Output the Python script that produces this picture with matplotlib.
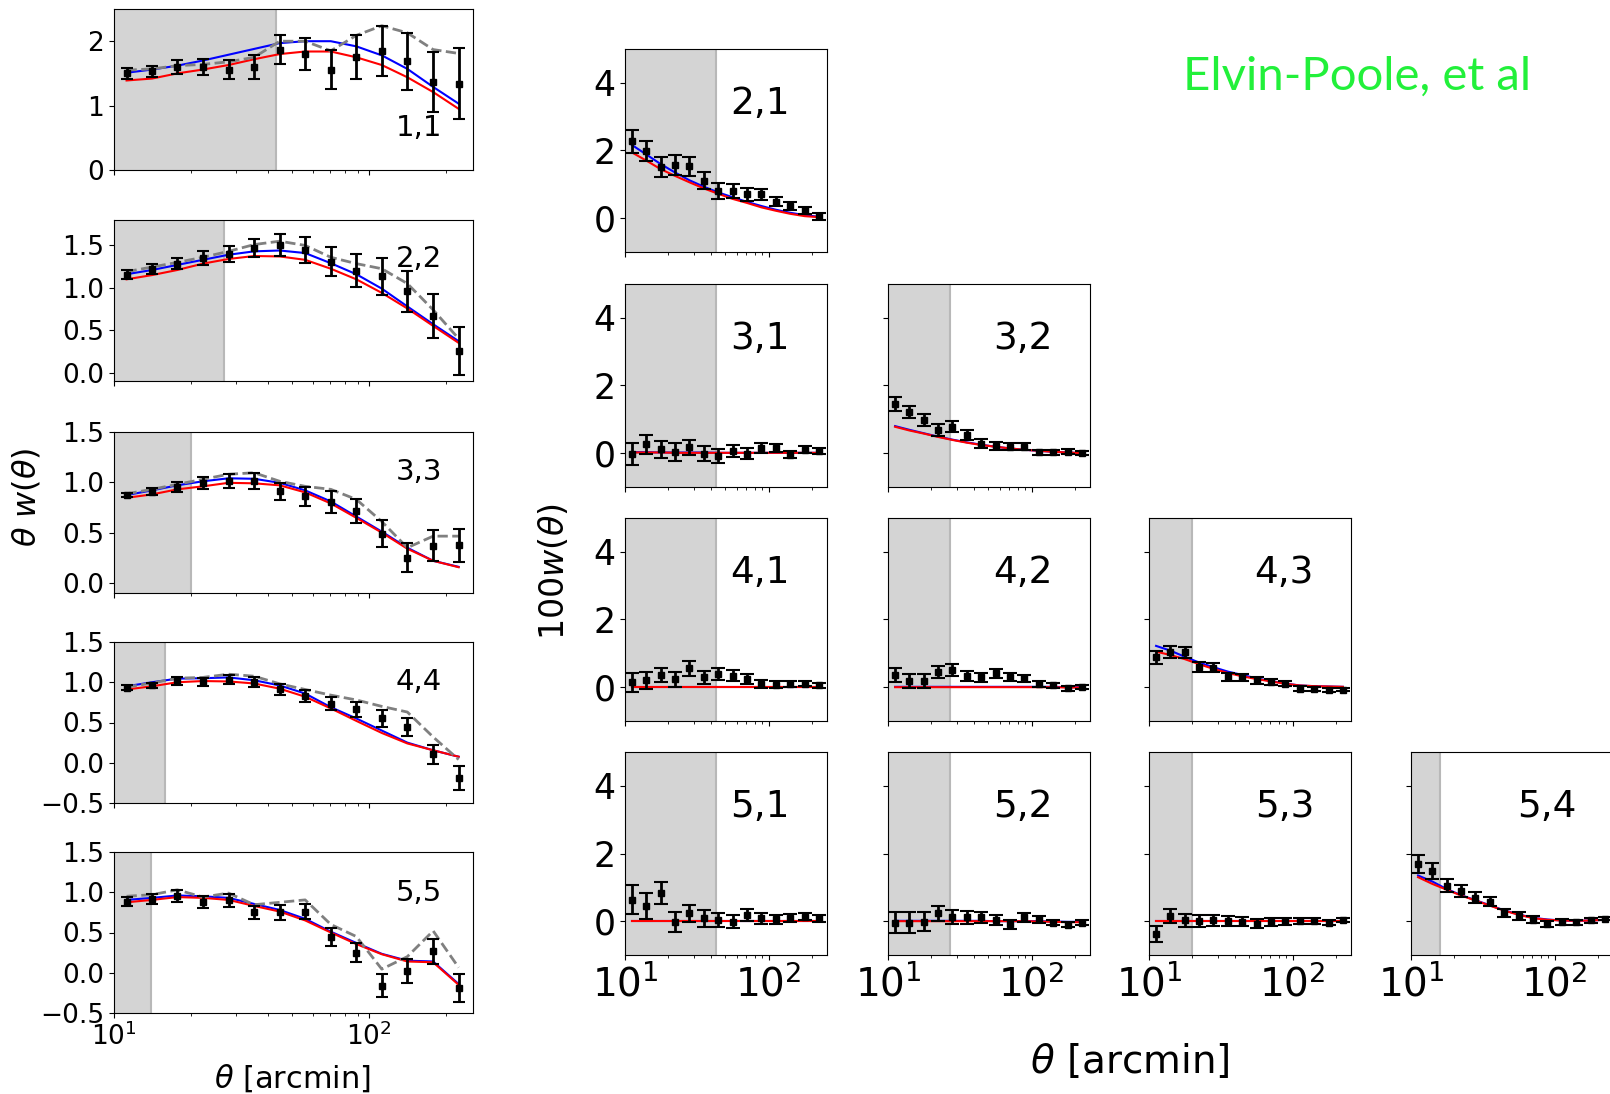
import numpy as np
import matplotlib
matplotlib.use('Agg')
import matplotlib.pyplot as plt

# angular bin centres [arcmin]
theta = [11.2, 14.1, 17.7, 22.3, 28.1, 35.4, 44.6, 56.1, 70.7, 89.0, 112.0, 141.0, 178.0, 224.0]

# scale cuts per lens bin (shaded region)
cuts = [43.0, 27.0, 20.0, 15.9, 13.9]

# --- auto-correlations: theta * w(theta) ---
w11 = [1.50, 1.53, 1.60, 1.60, 1.56, 1.60, 1.87, 1.80, 1.56, 1.75, 1.85, 1.69, 1.37, 1.34]
e11 = [0.09, 0.09, 0.11, 0.13, 0.15, 0.18, 0.22, 0.25, 0.30, 0.34, 0.39, 0.44, 0.47, 0.55]
blue11 = [1.51, 1.56, 1.62, 1.70, 1.79, 1.88, 1.97, 2.00, 2.00, 1.92, 1.78, 1.57, 1.29, 1.03]
red11 = [1.39, 1.42, 1.50, 1.56, 1.63, 1.72, 1.80, 1.84, 1.84, 1.75, 1.63, 1.44, 1.21, 0.95]
grey11 = [1.55, 1.57, 1.62, 1.64, 1.68, 1.75, 2.00, 2.00, 1.85, 2.09, 2.24, 2.13, 1.87, 1.81]

w22 = [1.155, 1.22, 1.285, 1.35, 1.40, 1.47, 1.50, 1.45, 1.31, 1.20, 1.135, 0.96, 0.665, 0.255]
e22 = [0.055, 0.06, 0.065, 0.08, 0.09, 0.11, 0.13, 0.155, 0.17, 0.195, 0.22, 0.24, 0.26, 0.28]
blue22 = [1.16, 1.21, 1.27, 1.33, 1.39, 1.43, 1.44, 1.41, 1.29, 1.16, 0.99, 0.78, 0.57, 0.37]
red22 = [1.10, 1.15, 1.21, 1.285, 1.34, 1.375, 1.37, 1.33, 1.225, 1.10, 0.94, 0.756, 0.55, 0.35]
grey22 = [1.19, 1.245, 1.30, 1.36, 1.43, 1.51, 1.55, 1.50, 1.36, 1.285, 1.225, 1.05, 0.74, 0.40]

w33 = [0.87, 0.905, 0.95, 0.99, 1.01, 1.01, 0.91, 0.86, 0.805, 0.715, 0.49, 0.25, 0.37, 0.375]
e33 = [0.02, 0.035, 0.05, 0.06, 0.07, 0.08, 0.085, 0.095, 0.11, 0.12, 0.135, 0.145, 0.155, 0.165]
blue33 = [0.873, 0.92, 0.97, 1.01, 1.04, 1.035, 0.995, 0.92, 0.81, 0.66, 0.51, 0.35, 0.22, 0.16]
red33 = [0.846, 0.88, 0.93, 0.96, 0.995, 0.99, 0.97, 0.90, 0.79, 0.647, 0.50, 0.34, 0.22, 0.156]
grey33 = [0.886, 0.93, 0.98, 1.03, 1.08, 1.095, 1.01, 0.96, 0.93, 0.83, 0.61, 0.35, 0.465, 0.465]

w44 = [0.93, 0.96, 1.015, 1.005, 1.03, 1.005, 0.91, 0.825, 0.735, 0.665, 0.55, 0.445, 0.105, -0.185]
e44 = [0.03, 0.035, 0.045, 0.05, 0.055, 0.06, 0.07, 0.075, 0.085, 0.095, 0.10, 0.11, 0.12, 0.15]
blue44 = [0.95, 1.00, 1.045, 1.05, 1.06, 1.025, 0.96, 0.86, 0.69, 0.55, 0.40, 0.25, 0.155, 0.075]
red44 = [0.91, 0.95, 1.00, 1.015, 1.01, 0.985, 0.92, 0.82, 0.675, 0.52, 0.37, 0.24, 0.155, 0.075]
grey44 = [0.94, 0.99, 1.05, 1.06, 1.10, 1.075, 0.98, 0.91, 0.84, 0.78, 0.70, 0.63, 0.32, 0.04]

w55 = [0.885, 0.915, 0.955, 0.875, 0.90, 0.75, 0.75, 0.76, 0.44, 0.25, -0.16, 0.025, 0.265, -0.19]
e55 = [0.06, 0.065, 0.07, 0.075, 0.08, 0.085, 0.09, 0.095, 0.11, 0.12, 0.14, 0.15, 0.16, 0.17]
blue55 = [0.905, 0.93, 0.96, 0.95, 0.93, 0.855, 0.78, 0.67, 0.51, 0.37, 0.235, 0.15, 0.14, -0.14]
red55 = [0.875, 0.905, 0.94, 0.93, 0.905, 0.83, 0.76, 0.65, 0.50, 0.356, 0.23, 0.14, 0.13, -0.15]
grey55 = [0.95, 0.97, 1.03, 0.94, 0.99, 0.845, 0.875, 0.905, 0.60, 0.45, 0.045, 0.20, 0.52, 0.065]

# --- cross-correlations: 100 w(theta) ---
w21 = [2.28, 1.99, 1.52, 1.57, 1.53, 1.11, 0.81, 0.81, 0.70, 0.70, 0.49, 0.37, 0.23, 0.05]
e21 = [0.34, 0.30, 0.30, 0.30, 0.28, 0.26, 0.23, 0.21, 0.19, 0.17, 0.14, 0.12, 0.11, 0.10]
blue21 = [2.16, 1.88, 1.60, 1.35, 1.12, 0.93, 0.76, 0.62, 0.48, 0.36, 0.25, 0.16, 0.09, 0.04]
red21 = [1.94, 1.70, 1.45, 1.25, 1.06, 0.88, 0.72, 0.57, 0.45, 0.32, 0.22, 0.13, 0.06, 0.03]

w31 = [-0.03, 0.26, 0.12, 0.04, 0.17, -0.01, -0.08, 0.07, -0.01, 0.15, 0.15, -0.05, 0.10, 0.07]
e31 = [0.33, 0.27, 0.25, 0.26, 0.22, 0.22, 0.20, 0.18, 0.16, 0.14, 0.12, 0.10, 0.10, 0.09]
blue31 = [0.03, 0.03, 0.02, 0.02, 0.02, 0.02, 0.01, 0.01, 0.01, 0.01, 0.01, 0.01, 0.01, 0.01]
red31 = [0.02, 0.02, 0.02, 0.01, 0.01, 0.01, 0.01, 0.01, 0.01, 0.01, 0.01, 0.01, 0.01, 0.01]

w32 = [1.46, 1.22, 0.98, 0.68, 0.78, 0.54, 0.28, 0.22, 0.19, 0.19, 0.02, 0.02, 0.04, 0.00]
e32 = [0.21, 0.18, 0.17, 0.17, 0.16, 0.15, 0.13, 0.12, 0.11, 0.10, 0.08, 0.07, 0.07, 0.06]
blue32 = [0.80, 0.69, 0.59, 0.49, 0.40, 0.32, 0.25, 0.19, 0.14, 0.10, 0.07, 0.04, 0.02, 0.00]
red32 = [0.78, 0.67, 0.58, 0.48, 0.39, 0.31, 0.24, 0.19, 0.14, 0.10, 0.07, 0.04, 0.02, 0.00]

w41 = [0.15, 0.20, 0.36, 0.23, 0.56, 0.29, 0.39, 0.34, 0.23, 0.10, 0.07, 0.10, 0.10, 0.05]
e41 = [0.28, 0.25, 0.22, 0.22, 0.22, 0.20, 0.17, 0.16, 0.15, 0.12, 0.10, 0.09, 0.08, 0.07]
blue41 = [0.01, 0.01, 0.01, 0.01, 0.01, 0.01, 0.01, 0.01, 0.01, 0.01, 0.01, 0.01, 0.01, 0.01]
red41 = [0.00, 0.00, 0.00, 0.00, 0.00, 0.00, 0.00, 0.00, 0.00, 0.00, 0.00, 0.00, 0.00, 0.00]

w42 = [0.36, 0.18, 0.18, 0.44, 0.51, 0.32, 0.29, 0.41, 0.29, 0.26, 0.10, 0.05, -0.03, 0.00]
e42 = [0.20, 0.20, 0.20, 0.18, 0.17, 0.15, 0.14, 0.13, 0.12, 0.11, 0.09, 0.08, 0.07, 0.06]
blue42 = [0.01, 0.01, 0.01, 0.01, 0.01, 0.01, 0.01, 0.01, 0.01, 0.01, 0.01, 0.01, 0.00, 0.00]
red42 = [0.00, 0.00, 0.00, 0.00, 0.00, 0.00, 0.00, 0.00, 0.00, 0.00, 0.00, 0.00, -0.01, -0.01]

w43 = [0.88, 1.05, 1.03, 0.59, 0.57, 0.31, 0.29, 0.20, 0.15, 0.10, -0.05, -0.05, -0.07, -0.07]
e43 = [0.20, 0.18, 0.17, 0.14, 0.13, 0.12, 0.11, 0.10, 0.09, 0.08, 0.07, 0.06, 0.06, 0.05]
blue43 = [1.22, 1.08, 0.90, 0.73, 0.59, 0.46, 0.36, 0.26, 0.18, 0.11, 0.05, 0.03, 0.02, 0.01]
red43 = [1.05, 0.95, 0.83, 0.68, 0.54, 0.42, 0.32, 0.24, 0.17, 0.10, 0.05, 0.03, 0.02, 0.01]

w51 = [0.64, 0.44, 0.83, -0.02, 0.23, 0.08, 0.03, -0.02, 0.18, 0.08, 0.05, 0.10, 0.13, 0.08]
e51 = [0.44, 0.38, 0.32, 0.30, 0.26, 0.24, 0.21, 0.19, 0.17, 0.15, 0.14, 0.12, 0.10, 0.09]
blue51 = [0.01, 0.01, 0.01, 0.01, 0.01, 0.01, 0.01, 0.01, 0.01, 0.01, 0.01, 0.01, 0.01, 0.01]
red51 = [0.00, 0.00, 0.00, 0.00, 0.00, 0.00, 0.00, 0.00, 0.00, 0.00, 0.00, 0.00, 0.00, 0.00]

w52 = [-0.05, -0.04, -0.02, 0.23, 0.13, 0.11, 0.11, 0.03, -0.09, 0.11, 0.06, -0.04, -0.10, -0.04]
e52 = [0.31, 0.30, 0.28, 0.22, 0.20, 0.18, 0.16, 0.15, 0.13, 0.12, 0.10, 0.08, 0.08, 0.07]
blue52 = [0.01, 0.01, 0.01, 0.01, 0.01, 0.01, 0.01, 0.00, 0.00, 0.00, 0.00, -0.01, -0.02, -0.02]
red52 = [0.00, 0.00, 0.00, 0.00, 0.00, 0.00, 0.00, 0.00, 0.00, 0.00, -0.01, -0.02, -0.03, -0.03]

w53 = [-0.39, 0.15, 0.03, 0.01, 0.03, 0.01, -0.02, -0.07, -0.02, 0.00, 0.00, 0.01, -0.04, 0.03]
e53 = [0.24, 0.21, 0.19, 0.17, 0.16, 0.14, 0.13, 0.12, 0.11, 0.10, 0.09, 0.08, 0.07, 0.06]
blue53 = [0.01, 0.01, 0.01, 0.01, 0.01, 0.01, 0.01, 0.01, 0.01, 0.01, 0.01, 0.01, 0.01, 0.01]
red53 = [0.00, 0.00, 0.00, 0.00, 0.00, 0.00, 0.00, 0.00, 0.00, 0.00, 0.00, 0.00, 0.00, 0.00]

w54 = [1.69, 1.49, 1.05, 0.88, 0.69, 0.58, 0.24, 0.15, 0.04, -0.08, -0.03, -0.03, 0.02, 0.07]
e54 = [0.28, 0.24, 0.20, 0.18, 0.16, 0.14, 0.12, 0.11, 0.10, 0.09, 0.08, 0.07, 0.06, 0.05]
blue54 = [1.35, 1.17, 0.95, 0.77, 0.62, 0.47, 0.32, 0.20, 0.10, 0.05, 0.02, 0.01, 0.02, 0.04]
red54 = [1.30, 1.10, 0.93, 0.76, 0.61, 0.46, 0.31, 0.19, 0.09, 0.04, 0.02, 0.01, 0.02, 0.04]

auto_panels = [
    ('1,1', w11, e11, blue11, red11, grey11, cuts[0], (0, 2.5), [0, 1, 2], 0.26),
    ('2,2', w22, e22, blue22, red22, grey22, cuts[1], (-0.1, 1.8), [0.0, 0.5, 1.0, 1.5], 0.76),
    ('3,3', w33, e33, blue33, red33, grey33, cuts[2], (-0.1, 1.5), [0.0, 0.5, 1.0, 1.5], 0.75),
    ('4,4', w44, e44, blue44, red44, grey44, cuts[3], (-0.5, 1.5), [-0.5, 0.0, 0.5, 1.0, 1.5], 0.75),
    ('5,5', w55, e55, blue55, red55, grey55, cuts[4], (-0.5, 1.5), [-0.5, 0.0, 0.5, 1.0, 1.5], 0.745),
]

cross_panels = [
    (2, 1, w21, e21, blue21, red21),
    (3, 1, w31, e31, blue31, red31),
    (3, 2, w32, e32, blue32, red32),
    (4, 1, w41, e41, blue41, red41),
    (4, 2, w42, e42, blue42, red42),
    (4, 3, w43, e43, blue43, red43),
    (5, 1, w51, e51, blue51, red51),
    (5, 2, w52, e52, blue52, red52),
    (5, 3, w53, e53, blue53, red53),
    (5, 4, w54, e54, blue54, red54),
]

W, H = 1610, 1094
fig = plt.figure(figsize=(W / 100, H / 100), dpi=100)


def add_ax(left, top, width, height):
    return fig.add_axes([left / W, 1 - (top + height) / H, width / W, height / H])


def shade(ax, cut):
    ax.axvspan(10, cut, color='#d4d4d4', lw=0, zorder=0)
    ax.axvline(cut, color='#b8b8b8', lw=1.5, zorder=0.5)


# left column: auto-correlations
left_tops = [9, 220, 432, 642, 852]
for k, (lab, w, e, b, r, g, cut, ylim, yt, ly) in enumerate(auto_panels):
    ax = add_ax(114, left_tops[k], 359, 161)
    shade(ax, cut)
    ax.plot(theta, b, color='b', lw=1.5, zorder=2)
    ax.plot(theta, r, color='r', lw=1.5, zorder=2)
    ax.plot(theta, g, color='grey', ls='--', lw=2, zorder=2)
    ax.errorbar(theta, w, yerr=e, fmt='s', color='k', ms=5, elinewidth=2,
                capsize=4, capthick=1.5, zorder=3)
    ax.set_xscale('log')
    ax.set_xlim(10, 255)
    ax.set_ylim(*ylim)
    ax.set_yticks(yt)
    ax.tick_params(labelsize=19)
    ax.text(0.85, ly, lab, transform=ax.transAxes, ha='center', va='center', fontsize=21)
    if k < 4:
        ax.tick_params(axis='x', which='both', labelbottom=False)

fig.text(26 / W, 1 - 497 / H, r'$\theta$ $w(\theta)$', rotation=90, ha='center', va='center', fontsize=23)
fig.text(293 / W, 1 - 1078 / H, r'$\theta$ [arcmin]', ha='center', va='center', fontsize=22)

# right triangle: cross-correlations
col_left = [625, 888, 1149, 1411]
row_top = [49, 284, 518, 752]
for i, j, w, e, b, r in cross_panels:
    ax = add_ax(col_left[j - 1], row_top[i - 2], 202, 203)
    shade(ax, cuts[j - 1])
    ax.plot(theta, b, color='b', lw=1.5, zorder=2)
    ax.plot(theta, r, color='r', lw=1.5, zorder=2)
    ax.errorbar(theta, w, yerr=e, fmt='s', color='k', ms=4, elinewidth=2,
                capsize=5, capthick=1.5, zorder=3)
    ax.set_xscale('log')
    ax.set_xlim(10, 255)
    ax.set_ylim(-1, 5)
    ax.set_yticks([0, 2, 4])
    ax.tick_params(axis='y', labelsize=25)
    ax.tick_params(axis='x', labelsize=28)
    ax.text(0.67, 0.73, '%d,%d' % (i, j), transform=ax.transAxes, ha='center', va='center', fontsize=27)
    if j > 1:
        ax.tick_params(axis='y', labelleft=False)
    if i < 5:
        ax.tick_params(axis='x', which='both', labelbottom=False)

fig.text(554 / W, 1 - 572 / H, r'$100w(\theta)$', rotation=90, ha='center', va='center', fontsize=24)
fig.text(1130 / W, 1 - 1062 / H, r'$\theta$ [arcmin]', ha='center', va='center', fontsize=28)

fig.text(1357 / W, 1 - 77 / H, 'Elvin-Poole, et al', color='#22f03a', ha='center', va='center',
         fontsize=34, family='Lato')

fig.savefig('out.png', dpi=100)
